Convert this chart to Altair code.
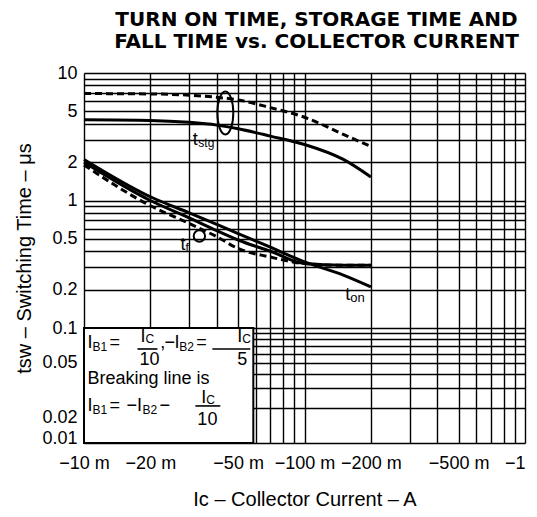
import altair as alt
import pandas as pd

# ---------------- data ----------------
current_A = [0.01, 0.02, 0.03, 0.04, 0.05, 0.07, 0.1, 0.15, 0.2]
tstg_solid = [4.3, 4.25, 4.1, 3.9, 3.65, 3.2, 2.75, 2.1, 1.53]
tstg_dashed = [6.9, 6.85, 6.7, 6.45, 6.15, 5.35, 4.5, 3.3, 2.65]
ton_solid = [2.1, 1.07, 0.80, 0.65, 0.55, 0.43, 0.33, 0.26, 0.21]
tf_solid = [2.0, 1.0, 0.73, 0.58, 0.49, 0.40, 0.32, 0.31, 0.31]
tf_dashed = [1.9, 0.91, 0.66, 0.52, 0.42, 0.36, 0.32, 0.31, 0.31]

x_label_values = [0.01, 0.02, 0.05, 0.1, 0.2, 0.5, 1]
x_label_text = ["\u221210 m", "\u221220 m", "\u221250 m", "\u2212100 m", "\u2212200 m", "\u2212500 m", "\u22121"]
y_label_values = [10, 5, 2, 1, 0.5, 0.2, 0.1, 0.05, 0.02, 0.01]
y_label_text = ["10", "5", "2", "1", "0.5", "0.2", "0.1", "0.05", "0.02", "0.01"]

x_grid = [float(f"{k}e{e}") for e in (-2, -1) for k in range(1, 10)] + [1.0]
y_grid = [float(f"{k}e{e}") for e in (-2, -1, 0) for k in range(1, 10)] + [10.0]

title_lines = ["TURN ON TIME, STORAGE TIME AND", "FALL TIME vs. COLLECTOR CURRENT"]

# annotation texts (data coordinates: current A, time us)
ann_text = ["I", "B1", "=", "I", "C", "10", ",", "\u2212", "I", "B2", "=", "I", "C", "5",
            "Breaking line is",
            "I", "B1", "=", "\u2212I", "B2", "\u2212", "I", "C", "10",
            "t", "stg", "t", "f", "t", "on"]
ann_x = [0.01037, 0.01093, 0.01305, 0.01803, 0.0190, 0.01784, 0.0222, 0.02316, 0.0257, 0.02707, 0.0323, 0.0496, 0.05224, 0.0496,
         0.01037,
         0.01037, 0.01093, 0.01305, 0.01557, 0.01841, 0.02198, 0.03406, 0.03589, 0.03267,
         0.0311, 0.0330, 0.02736, 0.02883, 0.153, 0.1612]
ann_y = [0.0741, 0.0684, 0.0741, 0.0835, 0.0800, 0.0527, 0.0741, 0.0741, 0.0741, 0.0684, 0.0741, 0.0835, 0.0800, 0.0527,
         0.0362,
         0.0210, 0.0194, 0.0210, 0.0210, 0.0194, 0.0210, 0.02462, 0.0236, 0.01585,
         2.98, 2.82, 0.448, 0.424, 0.1815, 0.172]
ann_size = [18, 12, 18, 18, 12, 18, 18, 18, 18, 12, 18, 18, 12, 18,
            18,
            18, 12, 18, 18, 12, 18, 18, 12, 18,
            18, 12, 18, 12, 18, 13]

frac_x1 = [0.01747, 0.0382, 0.0320]
frac_x2 = [0.02153, 0.05678, 0.04152]
frac_y = [0.0657, 0.0657, 0.0210]

box_x1, box_x2, box_y1, box_y2 = [0.01], [0.0586], [0.01], [0.1]

tstg_mark_x, tstg_mark_y = [0.04375], [4.86]
tf_mark_x, tf_mark_y = [0.03336], [0.527]

# ---------------- chart ----------------
FONT = "Liberation Sans"

def label_expr(vals, texts):
    parts = [f"abs(datum.value - {v}) < 1e-9 ? '{t}'" for v, t in zip(vals, texts)]
    return " : ".join(parts) + " : ''"

xscale = alt.Scale(type="log", domain=[0.01, 1], nice=False)
yscale = alt.Scale(type="log", domain=[0.01, 0.1, 10], range=[370, 255, 0], nice=False)

xaxis = alt.Axis(values=x_grid, labelExpr=label_expr(x_label_values, x_label_text),
                 grid=True, gridColor="black", gridWidth=1.4, gridOpacity=1,
                 ticks=False, domain=False, labelFlush=False, labelOverlap=False,
                 labelAlign={"condition": {"test": "datum.value > 0.99", "value": "right"},
                             "value": "center"},
                 labelFont=FONT, labelFontSize=18, labelColor="black", labelPadding=11,
                 title="Ic \u2013 Collector Current \u2013 A", titleFont=FONT, titleFontSize=20,
                 titleFontWeight="normal", titleColor="black", titlePadding=17)
yaxis = alt.Axis(values=y_grid, labelExpr=label_expr(y_label_values, y_label_text),
                 grid=True, gridColor="black", gridWidth=1.4, gridOpacity=1,
                 ticks=False, domain=False, labelOverlap=False,
                 labelBaseline={"condition": [{"test": "datum.value < 0.011", "value": "alphabetic"},
                                              {"test": "datum.value < 0.021", "value": "top"}],
                                "value": "middle"},
                 labelFont=FONT, labelFontSize=18, labelColor="black", labelPadding=7,
                 title="tsw \u2013 Switching Time \u2013 \u03bcs", titleFont=FONT, titleFontSize=20,
                 titleFontWeight="normal", titleColor="black", titlePadding=7)

def X(f):
    return alt.X(f"{f}:Q", scale=xscale, axis=xaxis)

def Y(f):
    return alt.Y(f"{f}:Q", scale=yscale, axis=yaxis)

rows = []
for name, vals, dash in [("tstg_solid", tstg_solid, "solid"), ("tstg_dashed", tstg_dashed, "dashed"),
                         ("ton_solid", ton_solid, "solid"), ("tf_solid", tf_solid, "solid"),
                         ("tf_dashed", tf_dashed, "dashed")]:
    for i, t in zip(current_A, vals):
        rows.append({"I": i, "t": t, "series": name, "dash": dash})
curves = pd.DataFrame(rows)

solid = alt.Chart(curves[curves.dash == "solid"]).mark_line(
    color="black", strokeWidth=3, interpolate="monotone"
).encode(x=X("I"), y=Y("t"), detail="series:N")

dashed = alt.Chart(curves[curves.dash == "dashed"]).mark_line(
    color="black", strokeWidth=3, strokeDash=[7, 4], interpolate="monotone"
).encode(x=X("I"), y=Y("t"), detail="series:N")

box = alt.Chart(pd.DataFrame({"I": box_x1, "I2": box_x2, "t": box_y1, "t2": box_y2})).mark_rect(
    fill="white", stroke="black", strokeWidth=2
).encode(x=X("I"), x2="I2:Q", y=Y("t"), y2="t2:Q")

ann = pd.DataFrame({"I": ann_x, "t": ann_y, "text": ann_text, "size": ann_size})
texts = alt.Chart(ann).mark_text(
    font=FONT, color="black", align="left", baseline="middle"
).encode(x=X("I"), y=Y("t"), text="text:N", size=alt.Size("size:Q", scale=None))

fracs = alt.Chart(pd.DataFrame({"I": frac_x1, "I2": frac_x2, "t": frac_y})).mark_rule(
    color="black", strokeWidth=1.6
).encode(x=X("I"), x2="I2:Q", y=Y("t"))

a, b, k = 0.37, 1.0, 0.5523
ellipse_path = (f"M {a} 0 C {a} {k*b:.4f} {k*a:.4f} {b} 0 {b} "
                f"C {-k*a:.4f} {b} {-a} {k*b:.4f} {-a} 0 "
                f"C {-a} {-k*b:.4f} {-k*a:.4f} {-b} 0 {-b} "
                f"C {k*a:.4f} {-b} {a} {-k*b:.4f} {a} 0 Z")
tstg_mark = alt.Chart(pd.DataFrame({"I": tstg_mark_x, "t": tstg_mark_y})).mark_point(
    shape=ellipse_path, size=1849, filled=False, color="black", strokeWidth=2, opacity=1
).encode(x=X("I"), y=Y("t"))

tf_mark = alt.Chart(pd.DataFrame({"I": tf_mark_x, "t": tf_mark_y})).mark_point(
    shape="circle", size=130, filled=False, color="black", strokeWidth=2, opacity=1
).encode(x=X("I"), y=Y("t"))

chart = alt.layer(solid, dashed, box, fracs, texts, tstg_mark, tf_mark).properties(
    width=441, height=370,
    autosize=alt.AutoSizeParams(type="none"),
    padding={"left": 76, "top": 65, "right": 4, "bottom": 66},
    title=alt.TitleParams(title_lines, font="DejaVu Sans", fontSize=20, fontWeight="bold",
                          color="black", anchor="middle", dx=12, offset=12, lineHeight=22),
).configure_view(stroke="black", strokeWidth=2).configure(background="white")

chart.save("out.html", embed_options={"renderer": "svg", "actions": False})
